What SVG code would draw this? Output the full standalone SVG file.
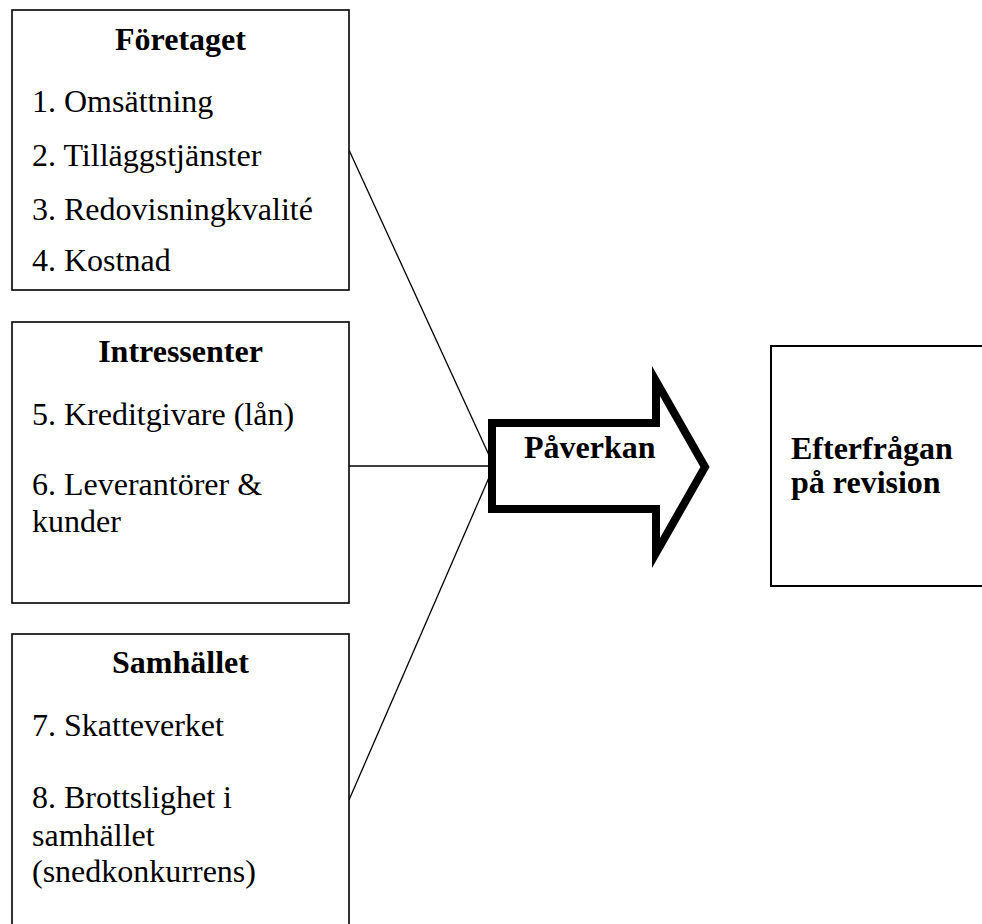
<svg xmlns="http://www.w3.org/2000/svg" width="982" height="924" viewBox="0 0 982 924">
  <style>
    .box { fill: #fff; stroke: #000; stroke-width: 1.6; }
    .target { fill: #fff; stroke: #000; stroke-width: 2; }
    .title { font-family: "Liberation Serif", "Times New Roman", serif; font-size: 32px; font-weight: bold; fill: #000; }
    .item { font-family: "Liberation Serif", "Times New Roman", serif; font-size: 32px; fill: #000; }
    .conn { stroke: #000; stroke-width: 1.3; fill: none; }
    .arrow { fill: #fff; stroke: #000; stroke-width: 8; stroke-miterlimit: 10; }
  </style>

  <!-- connectors from the three factor boxes into the arrow -->
  <g id="connectors">
    <line class="conn" x1="349" y1="150" x2="494" y2="466"/>
    <line class="conn" x1="349" y1="466" x2="494" y2="466"/>
    <line class="conn" x1="349" y1="800" x2="494" y2="466"/>
  </g>

  <g id="foretaget">
    <rect class="box" x="12" y="10" width="337" height="280"/>
    <text class="title" x="180.5" y="49.5" text-anchor="middle">Företaget</text>
    <text class="item" x="32" y="112">1. Omsättning</text>
    <text class="item" x="32" y="166">2. Tilläggstjänster</text>
    <text class="item" x="32" y="220">3. Redovisningkvalité</text>
    <text class="item" x="32" y="271">4. Kostnad</text>
  </g>

  <g id="intressenter">
    <rect class="box" x="12" y="322" width="337" height="281"/>
    <text class="title" x="180.5" y="362" text-anchor="middle">Intressenter</text>
    <text class="item" x="32" y="425">5. Kreditgivare (lån)</text>
    <text class="item" x="32" y="495">6. Leverantörer &amp;</text>
    <text class="item" x="32" y="532">kunder</text>
  </g>

  <g id="samhallet">
    <rect class="box" x="12" y="634" width="337" height="300"/>
    <text class="title" x="180.5" y="673" text-anchor="middle">Samhället</text>
    <text class="item" x="32" y="736">7. Skatteverket</text>
    <text class="item" x="32" y="808">8. Brottslighet i</text>
    <text class="item" x="32" y="846">samhället</text>
    <text class="item" x="32" y="882">(snedkonkurrens)</text>
  </g>

  <g id="paverkan">
    <polygon class="arrow" points="492,423 656,423 656,381 705,467 656,553 656,509 492,509"/>
    <text class="title" x="524" y="458">Påverkan</text>
  </g>

  <g id="efterfragan">
    <rect class="target" x="771" y="346" width="230" height="240"/>
    <text class="title" x="791" y="459">Efterfrågan</text>
    <text class="title" x="791" y="493">på revision</text>
  </g>
</svg>
